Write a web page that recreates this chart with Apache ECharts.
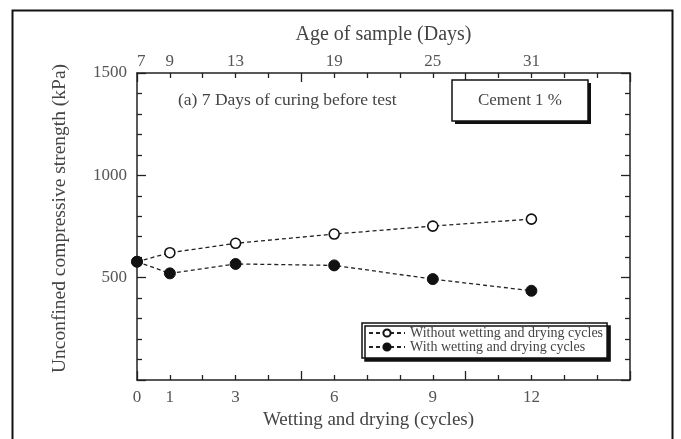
<!DOCTYPE html>
<html>
<head>
<meta charset="utf-8">
<script src="https://cdn.jsdelivr.net/npm/echarts@6/dist/echarts.min.js"></script>
<style>
  html, body { margin: 0; padding: 0; background: #fff; }
  #chart { width: 681px; height: 439px; }
</style>
</head>
<body>
<div id="chart"></div>
<script>
// Wetting–drying cycles and unconfined compressive strength, cement 1 %
const cycles = [0, 1, 3, 6, 9, 12];
const withoutWD = [578, 622, 668, 713, 752, 786];
const withWD = [578, 521, 567, 560, 493, 436];

const cycleTickLabels = [0, 1, 3, 6, 9, 12];
const ageDaysLabels = [7, 9, 13, 19, 25, 31];
const strengthTickLabels = [500, 1000, 1500];

const seriesNames = ['Without wetting and drying cycles', 'With wetting and drying cycles'];

const serif = 'Liberation Serif';
const labelColor = '#555';
const inkColor = '#222';

const toPairs = (xs, ys) => xs.map((x, i) => [x, ys[i]]);

const chart = echarts.init(document.getElementById('chart'), null, { renderer: 'canvas' });

// major ticks long, minor ticks short, all pointing into the plot
const tickStyle = { inside: true, length: 9, lineStyle: { color: inkColor, width: 1.3 } };
const minorStyle = { show: true, splitNumber: 5, length: 5, lineStyle: { color: inkColor, width: 1.3 } };
const lineStyle = { show: true, onZero: false, lineStyle: { color: inkColor, width: 1.5 } };

function xAxisBase(position, extra) {
  return Object.assign({
    type: 'value', min: 0, max: 15, interval: 5, position: position,
    splitLine: { show: false },
    axisLine: lineStyle, axisTick: tickStyle, minorTick: minorStyle
  }, extra);
}
function yAxisBase(position, extra) {
  return Object.assign({
    type: 'value', min: 0, max: 1500, interval: 500, position: position,
    splitLine: { show: false },
    axisLine: lineStyle, axisTick: tickStyle, minorTick: minorStyle
  }, extra);
}

const option = {
  backgroundColor: '#fff',
  animation: false,
  grid: { left: 137, top: 73, width: 493, height: 307 },
  xAxis: [
    // bottom: number of cycles
    xAxisBase('bottom', {
      name: 'Wetting and drying (cycles)',
      nameLocation: 'middle', nameGap: 30,
      nameTextStyle: { fontFamily: serif, fontSize: 19, color: '#444', padding: [0, 30, 0, 0] },
      axisLabel: {
        customValues: cycleTickLabels, fontFamily: serif, fontSize: 17, color: labelColor, margin: 9,
        formatter: v => String(v)
      }
    }),
    // top: age of sample in days (7 days of curing + 2 days per cycle)
    xAxisBase('top', {
      name: 'Age of sample (Days)',
      nameLocation: 'middle', nameGap: 28,
      nameTextStyle: { fontFamily: serif, fontSize: 20, color: '#444' },
      axisLabel: {
        customValues: cycleTickLabels, fontFamily: serif, fontSize: 17, color: labelColor, margin: 3,
        alignMinLabel: 'left',
        formatter: v => String(ageDaysLabels[cycleTickLabels.indexOf(v)])
      }
    })
  ],
  yAxis: [
    yAxisBase('left', {
      name: 'Unconfined compressive strength (kPa)',
      nameLocation: 'middle', nameGap: 67, nameRotate: 90,
      nameTextStyle: { fontFamily: serif, fontSize: 19.5, color: '#444', padding: [0, 0, 0, 16] },
      axisLabel: {
        customValues: strengthTickLabels, fontFamily: serif, fontSize: 17, color: labelColor, margin: 10,
        formatter: v => String(v)
      }
    }),
    yAxisBase('right', { axisLabel: { show: false } })
  ],
  legend: {
    left: 362, top: 323,
    orient: 'vertical',
    itemWidth: 36, itemHeight: 9, itemGap: 0,
    padding: [3, 4, 4, 6],
    backgroundColor: '#fff',
    borderColor: '#111', borderWidth: 1.5, borderRadius: 0,
    shadowColor: '#111', shadowOffsetX: 3, shadowOffsetY: 3, shadowBlur: 0,
    textStyle: { fontFamily: serif, fontSize: 14, lineHeight: 14, color: '#444' },
    data: seriesNames
  },
  series: [
    {
      name: seriesNames[0], type: 'line',
      data: toPairs(cycles, withoutWD),
      symbol: 'circle', symbolSize: 10,
      itemStyle: { color: '#fff', borderColor: '#111', borderWidth: 1.6 },
      lineStyle: { color: inkColor, width: 1.3, type: [4, 3] },
      z: 3
    },
    {
      name: seriesNames[1], type: 'line',
      data: toPairs(cycles, withWD),
      symbol: 'circle', symbolSize: 11,
      itemStyle: { color: '#111', borderColor: '#111', borderWidth: 1 },
      lineStyle: { color: inkColor, width: 1.3, type: [4, 3] },
      z: 4
    }
  ],
  graphic: [
    // figure frame
    {
      type: 'rect', left: 10, top: 8, silent: true, z: -1,
      shape: { width: 660, height: 440 },
      style: { fill: 'none', stroke: '#111', lineWidth: 2 }
    },
    {
      type: 'text', x: 178, y: 100,
      style: { text: '(a) 7 Days of curing before test', fontFamily: serif, fontSize: 17.5, fill: '#444', verticalAlign: 'middle' }
    },
    // "Cement 1 %" box with drop shadow
    {
      type: 'rect', x: 455, y: 83, z: 5,
      shape: { width: 136, height: 41 },
      style: { fill: '#111' }
    },
    {
      type: 'rect', x: 452, y: 80, z: 6,
      shape: { width: 136, height: 41 },
      style: { fill: '#fff', stroke: '#111', lineWidth: 1.5 }
    },
    {
      type: 'text', x: 520, y: 101, z: 7,
      style: { text: 'Cement 1 %', fontFamily: serif, fontSize: 17, fill: '#444', align: 'center', verticalAlign: 'middle' }
    }
  ]
};

chart.setOption(option);
</script>
</body>
</html>
